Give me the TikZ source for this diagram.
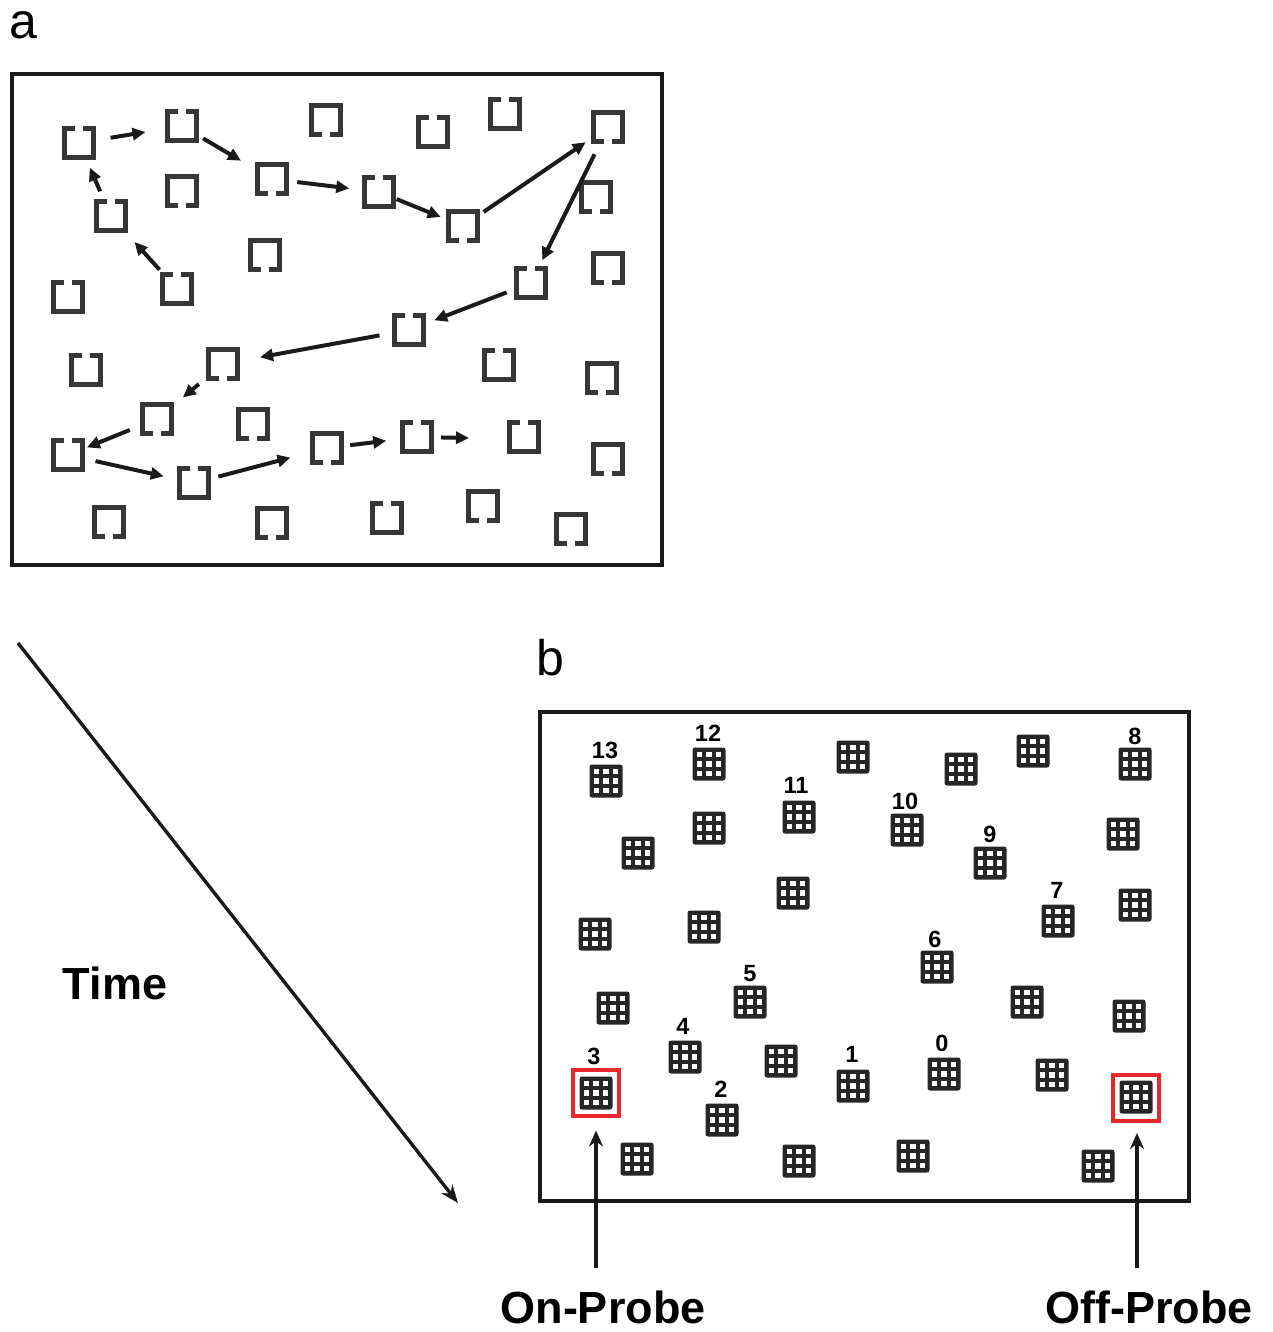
\documentclass[tikz,border=0pt]{standalone}
\usepackage{fontspec}
\setmainfont{Liberation Sans}
\usetikzlibrary{arrows.meta,calc}
\definecolor{sqc}{HTML}{363636}
\definecolor{ink}{HTML}{1A1A1A}
\definecolor{gcol}{HTML}{262626}
\definecolor{probered}{HTML}{E8262B}
\newcommand\gsq[3]{\node[sqn] (#1) at (#2) {}; \pic at (#1) {#3};}
\newcommand\ggl[2]{\node[gnode] (#1) at (#2) {}; \pic at (#1) {gridg};}
\begin{document}
\begin{tikzpicture}[x=1pt,y=-1pt,
  sqn/.style={minimum size=34pt, inner sep=0pt, outer sep=0pt},
  gnode/.style={minimum size=33pt, inner sep=0pt, outer sep=0pt},
  sqline/.style={draw=sqc, line width=5pt, line join=miter},
  pics/sqT/.style={code={\draw[sqline] (-4,-14.5) -- (-14.5,-14.5) -- (-14.5,14.5) -- (14.5,14.5) -- (14.5,-14.5) -- (4,-14.5);}},
  pics/sqB/.style={code={\draw[sqline] (-4,14.5) -- (-14.5,14.5) -- (-14.5,-14.5) -- (14.5,-14.5) -- (14.5,14.5) -- (4,14.5);}},
  pics/gridg/.style={code={
    \fill[gcol, rounded corners=2.5pt] (-16.5,-16.5) rectangle (16.5,16.5);
    \foreach \i in {-1,0,1}{\foreach \j in {-1,0,1}{\fill[white] (\i*9.5-2.8,\j*9.5-2.8) rectangle ++(5.6,5.6);}}
  }},
  frame/.style={draw=ink, line width=3.6pt},
  arr/.style={draw=ink, line width=4pt, -{Triangle[length=13pt,width=12pt]}},
  tarr/.style={draw=ink, line width=3.4pt, -{Stealth[length=18pt,width=14pt]}},
  parr/.style={draw=ink, line width=3.6pt, -{Stealth[length=16pt,width=14pt]}},
  rbox/.style={draw=probered, line width=4pt, minimum size=46pt, inner sep=0pt, outer sep=0pt},
  panel/.style={font=\fontsize{50}{50}\selectfont, anchor=base, inner sep=0pt},
  big/.style={font=\bfseries\fontsize{45}{45}\selectfont, anchor=base, inner sep=0pt},
  lab/.style={font=\bfseries\fontsize{23.5}{23.5}\selectfont, anchor=base, inner sep=0pt}
]
\useasboundingbox (0,0) rectangle (1273,1332);

% ---------- panel a ----------
\node[panel] (la) at (23,39) {a};
\node[frame, minimum width=650pt, minimum height=491pt, inner sep=0pt, anchor=north west] (fa) at (10,72) {};

\gsq{s1}{79,143}{sqT}
\gsq{s2}{182,126}{sqT}
\gsq{s3}{326,120}{sqB}
\gsq{s4}{433,132}{sqT}
\gsq{s5}{505,114}{sqT}
\gsq{s6}{608,127}{sqB}
\gsq{s7}{272,179}{sqB}
\gsq{s8}{182,191}{sqB}
\gsq{s9}{379,192}{sqT}
\gsq{s10}{463,226}{sqB}
\gsq{s11}{596,197}{sqB}
\gsq{s12}{111,216}{sqT}
\gsq{s13}{265,255}{sqB}
\gsq{s14}{177,289}{sqT}
\gsq{s15}{68,297}{sqT}
\gsq{s16}{531,283}{sqT}
\gsq{s17}{608,268}{sqB}
\gsq{s18}{409,330}{sqT}
\gsq{s19}{86,370}{sqT}
\gsq{s20}{223,364}{sqB}
\gsq{s21}{499,365}{sqT}
\gsq{s22}{602,378}{sqB}
\gsq{s23}{157,419}{sqB}
\gsq{s24}{253,424}{sqB}
\gsq{s25}{68,455}{sqT}
\gsq{s26}{194,483}{sqT}
\gsq{s27}{327,448}{sqB}
\gsq{s28}{417,437}{sqT}
\gsq{s29}{524,437}{sqT}
\gsq{s30}{608,459}{sqB}
\gsq{s31}{109,522}{sqB}
\gsq{s32}{272,523}{sqB}
\gsq{s33}{387,518}{sqT}
\gsq{s34}{483,506}{sqB}
\gsq{s35}{571,529}{sqB}
\coordinate (aend) at (469,438);

\draw[arr, shorten <=26pt, shorten >=35pt] (s14.center) -- (s12.center);
\draw[arr, shorten <=27pt, shorten >=27pt] (s12.center) -- (s1.center);
\draw[arr, shorten <=32pt, shorten >=37pt] (s1.center) -- (s2.center);
\draw[arr, shorten <=24.5pt, shorten >=36pt] (s2.center) -- (s7.center);
\draw[arr, shorten <=25.5pt, shorten >=30pt] (s7.center) -- (s9.center);
\draw[arr, shorten <=19pt, shorten >=24pt] (s9.center) -- (s10.center);
\draw[arr, shorten <=25pt, shorten >=27pt] (s10.center) -- (s6.center);
\draw[arr, shorten <=30.5pt, shorten >=25.3pt] (s6.center) -- (s16.center);
\draw[arr, shorten <=26pt, shorten >=27pt] (s16.center) -- (s18.center);
\draw[arr, shorten <=30pt, shorten >=37.6pt] (s18.center) -- (s20.center);
\draw[arr, shorten <=31.4pt, shorten >=33.6pt] (s20.center) -- (s23.center);
\draw[arr, shorten <=29.3pt, shorten >=20.4pt] (s23.center) -- (s25.center);
\draw[arr, shorten <=28.2pt, shorten >=31pt] (s25.center) -- (s26.center);
\draw[arr, shorten <=25.2pt, shorten >=37.7pt] (s26.center) -- (s27.center);
\draw[arr, shorten <=23.3pt, shorten >=31pt] (s27.center) -- (s28.center);
\draw[arr, shorten <=24pt] (s28.center) -- (aend);

% ---------- time arrow ----------
\coordinate (t0) at (18,643);
\coordinate (t1) at (458,1203);
\draw[tarr] (t0) -- (t1);
\node[big] (time) at (115,999) {Time};

% ---------- panel b ----------
\node[panel] (lb) at (550,675) {b};
\node[frame, minimum width=649pt, minimum height=489pt, inner sep=0pt, anchor=north west] (fb) at (538,710) {};

\node[rbox] (rb1) at (596,1092.5) {};
\node[rbox] (rb2) at (1136,1097.5) {};

\ggl{g13}{606,781}
\ggl{g12}{709,764}
\ggl{gb1}{709,828}
\ggl{gb2}{638,853}
\ggl{g11}{799,817}
\ggl{gb3}{853,757}
\ggl{g10}{907,830}
\ggl{gb4}{961,769}
\ggl{gb5}{1033,751}
\ggl{g8}{1135,764}
\ggl{g9}{990,863}
\ggl{gb6}{1123,834}
\ggl{gb7}{793,893}
\ggl{gb8}{595,934}
\ggl{gb9}{704,927}
\ggl{g7}{1058,921}
\ggl{gb10}{1135,905}
\ggl{g6}{937,967}
\ggl{g5}{750,1002}
\ggl{gb11}{613,1008}
\ggl{gb12}{1027,1002}
\ggl{gb13}{1129,1016}
\ggl{g4}{685,1057}
\ggl{g3}{596,1093}
\ggl{gb14}{781,1061}
\ggl{g1}{853,1086}
\ggl{g0}{944,1074}
\ggl{gb15}{1052,1075}
\ggl{goff}{1136,1097}
\ggl{g2}{722,1120}
\ggl{gb16}{637,1159}
\ggl{gb17}{799,1161}
\ggl{gb18}{913,1156}
\ggl{gb19}{1098,1166}

\node[lab] (l13) at ($(g13)+(-1,-22.5)$) {13};
\node[lab] (l12) at ($(g12)+(-1,-22.5)$) {12};
\node[lab] (l11) at ($(g11)+(-3,-23.5)$) {11};
\node[lab] (l10) at ($(g10)+(-2,-20.5)$) {10};
\node[lab] (l9) at ($(g9)+(0,-20.5)$) {9};
\node[lab] (l8) at ($(g8)+(0,-19.5)$) {8};
\node[lab] (l7) at ($(g7)+(-1,-22.5)$) {7};
\node[lab] (l6) at ($(g6)+(-2,-19.5)$) {6};
\node[lab] (l5) at ($(g5)+(0,-20.5)$) {5};
\node[lab] (l4) at ($(g4)+(-2,-22.5)$) {4};
\node[lab] (l3) at ($(g3)+(-2,-28.5)$) {3};
\node[lab] (l2) at ($(g2)+(-1,-22.5)$) {2};
\node[lab] (l1) at ($(g1)+(-1,-23.5)$) {1};
\node[lab] (l0) at ($(g0)+(-2,-22.5)$) {0};

% ---------- probes ----------
\node[big] (onp) at (603,1323) {On-Probe};
\node[big] (offp) at (1149,1323) {Off-Probe};
\coordinate (p1) at (596,1268);
\coordinate (p2) at (1137,1268);
\draw[parr, shorten >=15pt] (p1) -- (rb1.south);
\draw[parr, shorten >=12.5pt] (p2) -- (rb2.south -| p2);
\end{tikzpicture}
\end{document}
